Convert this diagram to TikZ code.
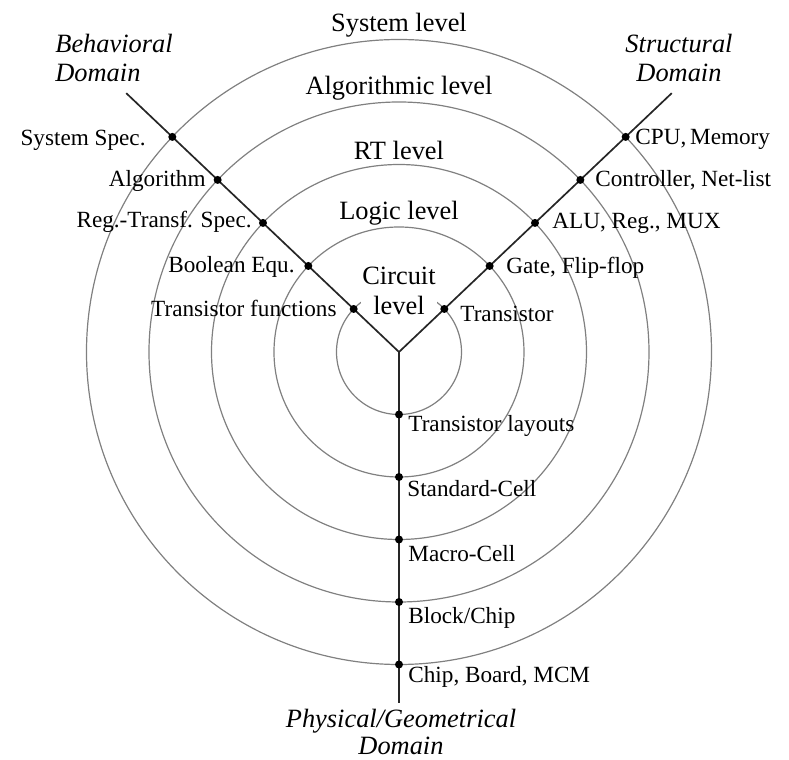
\documentclass[tikz,border=0pt]{standalone}
\usepackage{fontspec}
\setmainfont{Liberation Serif}
\begin{document}
\begin{tikzpicture}[x=0.5pt,y=0.5pt,
  ring/.style={draw=black!50, line width=0.6pt},
  axis/.style={draw=black!85, line width=0.85pt},
  dot/.style={circle, fill=black, inner sep=0pt, minimum size=4pt},
  lvl/.style={font=\fontsize{13.2}{15}\selectfont, inner sep=0pt, anchor=base},
  item/.style={font=\fontsize{11.6}{14}\selectfont, inner sep=0pt},
  itemL/.style={item, anchor=base east},
  itemR/.style={item, anchor=base west},
  dom/.style={font=\fontsize{13.2}{15}\selectfont\itshape, inner sep=0pt},
]
\useasboundingbox (-399,-408) rectangle (390,352);
\coordinate (O) at (0,0);

% concentric abstraction levels
\foreach \i in {1,...,5}
  \draw[ring] (O) circle [radius=62.5*\i];

% innermost level name, masking the inner ring behind it
\node[font=\fontsize{13.2}{15}\selectfont, align=center, fill=white, inner sep=0.5pt,
      anchor=center] (lcir) at (0,61) {Circuit\\level};

% the three domain axes
\coordinate (B) at (136.5:376);
\coordinate (S) at (43.5:376);
\coordinate (P) at (0,-351);
\draw[axis, line join=miter] (B) -- (O) -- (S);
\draw[axis] (O) -- (P);

% intersections of axes and levels
\foreach \i in {1,...,5} {
  \node[dot] (b\i) at (136.5:62.5*\i) {};
  \node[dot] (s\i) at (43.5:62.5*\i) {};
  \node[dot] (p\i) at (0,-62.5*\i) {};
}

% level names
\node[lvl] (lsys) at (0,320) {System level};
\node[lvl] (lalg) at (0,257) {Algorithmic level};
\node[lvl] (lrt)  at (0,192) {RT level};
\node[lvl] (llog) at (0,132) {Logic level};

% behavioral domain
\node[itemL] (tb5) at (-253,206) {System Spec.};
\node[itemL] (tb4) at (-193,165) {Algorithm};
\node[itemL] (tb3) at (-147,124) {Reg.-Transf. Spec.};
\node[itemL] (tb2) at (-104,79) {Boolean Equ.};
\node[itemL] (tb1) at (-62,35) {Transistor functions};

% structural domain
\node[itemR] (ts5) at (236,207) {CPU,\,Memory};
\node[itemR] (ts4) at (196,165) {Controller, Net-list};
\node[itemR] (ts3) at (153,123) {ALU, Reg., MUX};
\node[itemR] (ts2) at (107,78) {Gate, Flip-flop};
\node[itemR] (ts1) at (61,30) {Transistor};

% physical domain
\node[itemR] (tp1) at (9,-80) {Transistor layouts};
\node[itemR] (tp2) at (8,-145) {Standard-Cell};
\node[itemR] (tp3) at (9,-210) {Macro-Cell};
\node[itemR] (tp4) at (9,-272) {Block/Chip};
\node[itemR] (tp5) at (9,-331) {Chip, Board, MCM};

% domain names
\node[dom, anchor=base west] (db1) at (-344,299) {Behavioral};
\node[dom, anchor=base west] (db2) at (-344,270) {Domain};
\node[dom, anchor=base] (ds1) at (280,299) {Structural};
\node[dom, anchor=base] (ds2) at (280,270) {Domain};
\node[dom, anchor=base] (dp1) at (2,-376) {Physical/Geometrical};
\node[dom, anchor=base] (dp2) at (2,-403) {Domain};
\end{tikzpicture}
\end{document}
